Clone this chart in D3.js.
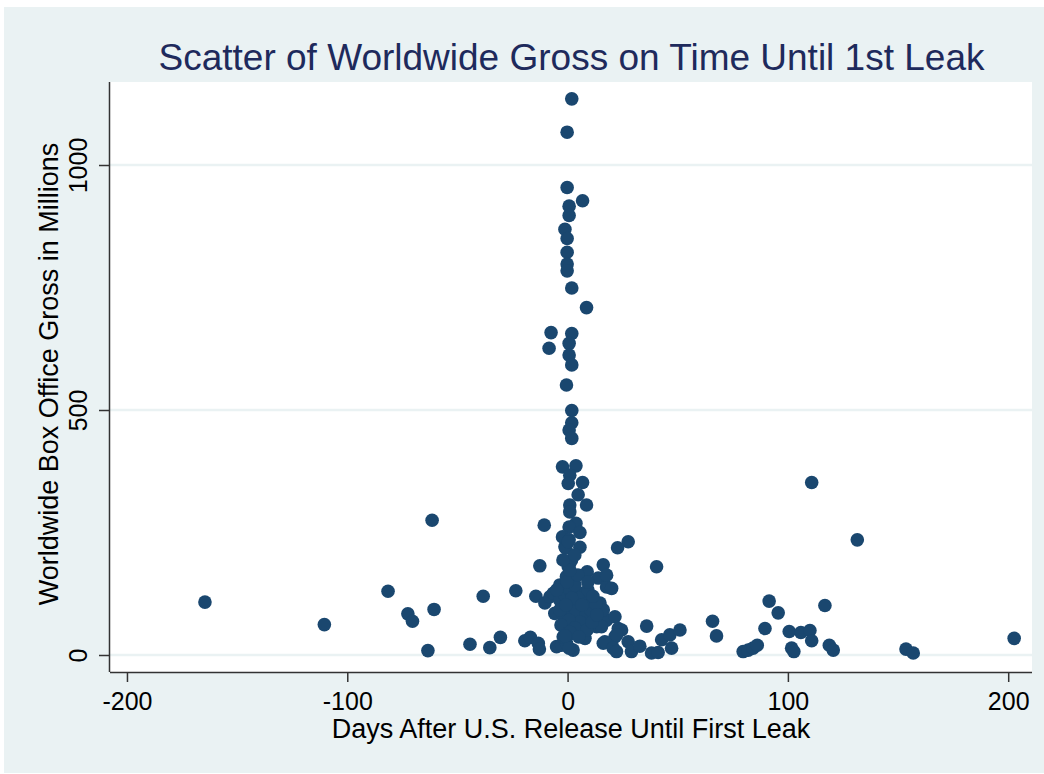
<!DOCTYPE html>
<html>
<head>
<meta charset="utf-8">
<script src="https://cdn.jsdelivr.net/npm/d3@7"></script>
<style>
html,body{margin:0;padding:0;background:#fff;}
text{font-family:"Liberation Sans",Arial,sans-serif;}
</style>
</head>
<body>
<svg id="chart" width="1044" height="774"></svg>
<script>
// Days after U.S. release until first leak
const days = [
 -164.6,-110.4,-81.5,-72.5,-70.4,-61.5,-60.6,-63.4,-44.3,-38.3,-35.3,-30.5,-23.5,-19.4,-16.9,-13.3,-12.8,-14.4,-12.6,-10.6,
 -10.3,-8.0,-5.8,-3.5,-6.5,-5.0,-2.7,
 1.9,-0.2,-0.2,6.8,0.7,0.7,-1.2,-0.2,-0.2,-0.2,-0.2,1.9,8.6,-7.5,1.9,-8.4,0.7,0.7,1.9,-0.5,1.9,1.9,0.7,1.9,
 -2.3,3.8,1.0,0.3,6.8,4.8,1.0,8.6,1.0,3.8,0.7,5.6,-2.3,0.7,-1.2,5.6,27.5,22.7,-0.8,0.3,1.8,0.3,
 1.0,8.9,16.2,13.9,-0.5,5.6,10.1,14.7,0.3,4.1,-0.5,7.1,13.2,17.7,17.7,-0.5,2.5,7.9,16.2,-2.0,1.8,0.7,
 40.4,17.7,20.0,16.2,21.5,15.4,23.0,24.5,21.5,35.9,16.9,20.7,22.2,27.5,29.0,32.8,38.1,41.1,42.7,46.4,51.0,47.2,65.8,67.6,22.2,
 110.8,131.5,91.5,95.6,116.8,89.6,100.6,105.9,110.0,110.8,101.7,102.7,79.7,82.0,84.2,86.1,118.8,120.6,153.6,156.9,202.7,
 -3.5,-1.2,1.0,3.3,5.6,7.9,1.9,3.8,-1.7,8.3,10.6,5.6,0.6,-3.0,3.3,8.8,11.1,1.0,5.1,-1.2,-3.5,12.8,1.9,-0.3,4.7,1.0,-2.1,3.3,9.2,6.5,-4.9,-0.8,11.5,9.2,13.3
];
// Worldwide box office gross (millions)
const gross = [
 108,62,130,84,69,275,93,9,22,120,15,36,131,29,36,24,12,120,182,265,
 106,119,85,143,126,17,20,
 1135,1067,954,927,916,897,869,850,822,798,784,749,709,658,656,626,636,612,592,551,499,474,459,442,
 384,386,367,350,352,327,306,306,292,269,261,250,241,235,221,220,231,219,218,231,194,180,
 187,170,184,157,160,126,109,106,99,78,58,68,58,71,139,24,10,34,24,37,44,14,
 180,163,136,92,78,58,54,51,37,59,27,14,7,27,7,18,4,5,31,41,51,14,69,39,41,
 352,235,110,86,101,54,48,46,50,29,14,7,7,10,14,20,20,10,12,4,34,
 112,122,133,143,116,104,100,88,80,80,92,67,71,61,55,51,67,47,37,39,92,104,116,149,163,173,194,204,133,102,133,102,120,149,82
];
const xTicks = [-200,-100,0,100,200];
const yTicks = [0,500,1000];
const titleText = "Scatter of Worldwide Gross on Time Until 1st Leak";
const xTitle = "Days After U.S. Release Until First Leak";
const yTitle = "Worldwide Box Office Gross in Millions";

const svg = d3.select("#chart");
const L = 110, R = 1032, T = 82, B = 672;
const x = d3.scaleLinear().domain([-207.7, 210.8]).range([L, R]);
const y = d3.scaleLinear().domain([-34.7, 1169.4]).range([B, T]);

// graph region background
svg.append("rect").attr("x",4).attr("y",7).attr("width",1040).attr("height",766).attr("fill","#eaf2f3");
// plot region
svg.append("rect").attr("x",L).attr("y",T).attr("width",R-L).attr("height",B-T).attr("fill","#ffffff");

// gridlines
svg.append("g").selectAll("line").data(yTicks).join("line")
  .attr("x1",L).attr("x2",R).attr("y1",d=>y(d)).attr("y2",d=>y(d))
  .attr("stroke","#eaf2f3").attr("stroke-width",2.5);

// points
const pts = days.map((d,i)=>({d, g: gross[i]}));
svg.append("g").selectAll("circle").data(pts).join("circle")
  .attr("cx",p=>x(p.d)).attr("cy",p=>y(p.g)).attr("r",6.8)
  .attr("fill","#1a476f");

// x axis
const xAxis = d3.axisBottom(x).tickValues(xTicks).tickSize(10).tickPadding(6).tickFormat(d3.format("d"));
const gx = svg.append("g").attr("transform",`translate(0,${B})`).call(xAxis);
gx.select(".domain").attr("d",`M${L},0.5H${R}`).attr("stroke","#333").attr("stroke-width",1.5);
gx.selectAll(".tick line").attr("stroke","#333").attr("stroke-width",1.5);
gx.selectAll(".tick text").attr("font-size",25).attr("fill","#000").attr("font-family","Liberation Sans, Arial, sans-serif")
  .attr("dy",null).attr("y",37.5).text(d=>d<0?"-"+Math.abs(d):d);

// y axis
const yAxis = d3.axisLeft(y).tickValues(yTicks).tickSize(11).tickPadding(12).tickFormat(d3.format("d"));
const gy = svg.append("g").attr("transform",`translate(${L},0)`).call(yAxis);
gy.select(".domain").attr("d",`M-0.5,${T}V${B}`).attr("stroke","#333").attr("stroke-width",1.5);
gy.selectAll(".tick line").attr("stroke","#333").attr("stroke-width",1.5);
gy.selectAll(".tick text").attr("font-size",25).attr("fill","#000").attr("font-family","Liberation Sans, Arial, sans-serif")
  .attr("x",null).attr("dy",null).attr("text-anchor","middle")
  .attr("transform","translate(-23,0) rotate(-90)");

// titles
svg.append("text").attr("x",571.5).attr("y",70).attr("text-anchor","middle")
  .attr("font-size",37).attr("fill","#1e2a5c").text(titleText);
svg.append("text").attr("x",571).attr("y",738).attr("text-anchor","middle")
  .attr("font-size",27).attr("fill","#000").text(xTitle);
svg.append("text").attr("transform","translate(58,374) rotate(-90)").attr("text-anchor","middle")
  .attr("font-size",27).attr("fill","#000").text(yTitle);
</script>
</body>
</html>
